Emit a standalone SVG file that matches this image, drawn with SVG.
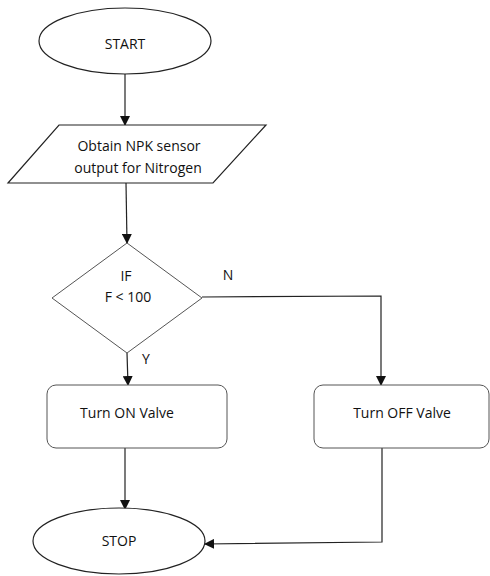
<svg xmlns="http://www.w3.org/2000/svg" width="490" height="576" viewBox="0 0 490 576">
<style>
.sh{fill:#fff;stroke:#222;stroke-width:1.2}
.bx{fill:#fff;stroke:#555;stroke-width:1}
.ln{fill:none;stroke:#222;stroke-width:1.2}
text{font-family:"Open Sans","Liberation Sans",sans-serif;font-size:14px;fill:#111;text-anchor:middle}
</style>
<defs>
<marker id="ah" markerWidth="10" markerHeight="10" refX="9" refY="5" orient="auto" markerUnits="userSpaceOnUse">
<path d="M0,0 L10,5 L0,10 Z" fill="#111"/>
</marker>
</defs>
<rect width="490" height="576" fill="#fff"/>
<g id="connectors">
<line class="ln" x1="125" y1="74" x2="125" y2="125" marker-end="url(#ah)"/>
<line class="ln" x1="126" y1="183" x2="127" y2="243" marker-end="url(#ah)"/>
<line class="ln" x1="127" y1="353" x2="128" y2="385" marker-end="url(#ah)"/>
<polyline class="ln" points="202,297 381,296 381,385" marker-end="url(#ah)"/>
<line class="ln" x1="125" y1="448" x2="125" y2="509" marker-end="url(#ah)"/>
<polyline class="ln" points="382,448 382,542 205,544" marker-end="url(#ah)"/>
</g>
<g id="start">
<ellipse class="sh" cx="125" cy="41" rx="86" ry="33"/>
<text x="125" y="49">START</text>
</g>
<g id="obtain">
<polygon class="sh" points="59,125 266,125 213,183 8,183"/>
<text x="139" y="151">Obtain NPK sensor</text>
<text x="138" y="173">output for Nitrogen</text>
</g>
<g id="decision">
<polygon class="bx" points="127,243 202,298 127,353 52,298"/>
<text x="126" y="281">IF</text>
<text x="128" y="302">F &lt; 100</text>
<text x="228" y="280">N</text>
<text x="146" y="364">Y</text>
</g>
<g id="turn-on">
<rect class="bx" x="47" y="385" width="180" height="63" rx="9"/>
<text x="127" y="418">Turn ON Valve</text>
</g>
<g id="turn-off">
<rect class="bx" x="314" y="385" width="175" height="63" rx="9"/>
<text x="402" y="418">Turn OFF Valve</text>
</g>
<g id="stop">
<ellipse class="sh" cx="119" cy="541" rx="86" ry="33"/>
<text x="119" y="546">STOP</text>
</g>
</svg>
